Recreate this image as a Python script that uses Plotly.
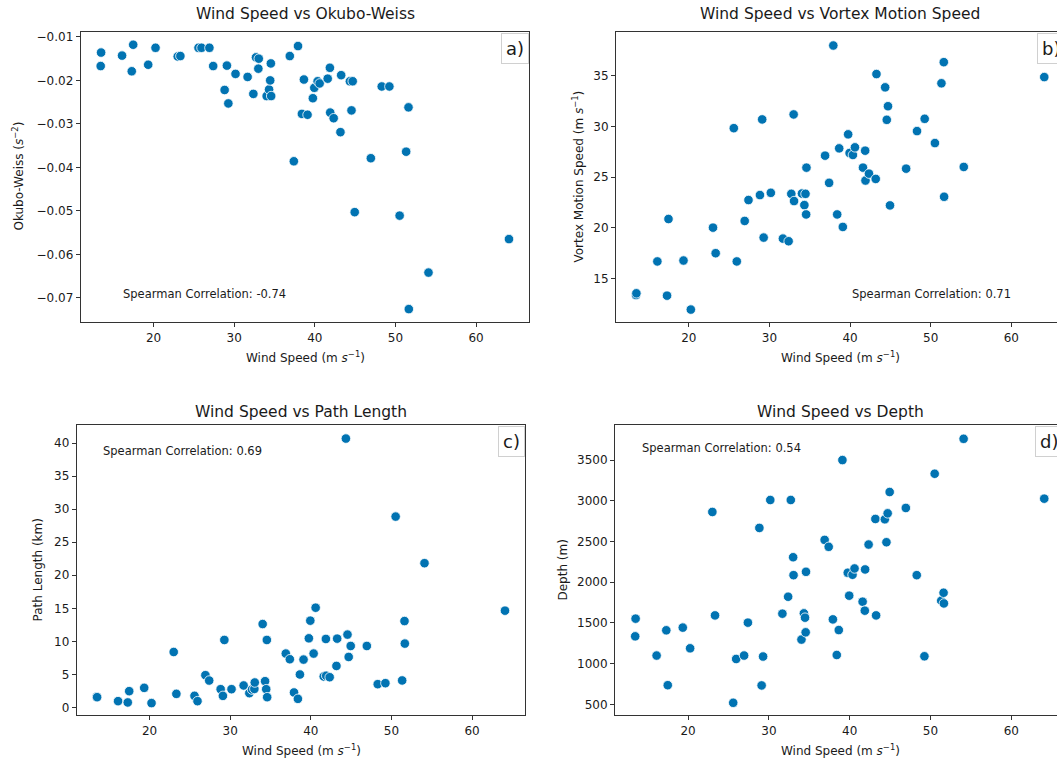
import plotly.graph_objects as go

W, H = 1057, 760

# ---------------- data ----------------
wind_speed = [13.45, 13.5, 16.1, 17.3, 17.48, 19.34, 20.25, 23.0, 23.33, 25.58,
              25.95, 26.93, 27.4, 28.82, 29.1, 29.28, 30.17, 31.67, 32.38, 32.71,
              33.0, 33.05, 34.03, 34.33, 34.47, 34.55, 34.59, 36.9, 37.4, 37.92,
              38.4, 38.65, 39.1, 39.76, 39.94, 40.35, 40.6, 41.6, 41.87, 41.91,
              42.34, 43.18, 43.27, 44.35, 44.55, 44.7, 44.95, 46.95, 48.3, 49.25,
              50.52, 51.33, 51.62, 51.66, 54.1, 64.08]

okubo_weiss = [-0.0167, -0.0136, -0.0143, -0.0179, -0.0118, -0.0164, -0.0125, -0.0145, -0.0144, -0.0125,
               -0.0125, -0.0125, -0.0167, -0.0222, -0.0166, -0.0253, -0.0185, -0.0192, -0.0231, -0.0147,
               -0.0173, -0.0150, -0.0236, -0.0221, -0.0200, -0.0161, -0.0236, -0.0144, -0.0386, -0.0121,
               -0.0277, -0.0198, -0.0279, -0.0241, -0.0217, -0.0202, -0.0207, -0.0196, -0.0171, -0.0274,
               -0.0287, -0.0319, -0.0188, -0.0202, -0.0269, -0.0202, -0.0503, -0.0379, -0.0214, -0.0214,
               -0.0511, -0.0364, -0.0262, -0.0726, -0.0642, -0.0565]

vortex_speed = [13.39, 13.56, 16.70, 13.33, 20.88, 16.79, 11.96, 20.03, 17.51, 29.83,
                16.70, 20.69, 22.75, 23.24, 30.69, 19.05, 23.46, 18.95, 18.69, 23.36,
                31.18, 22.65, 23.39, 22.25, 23.36, 21.33, 25.94, 27.12, 24.44, 37.97,
                21.33, 27.84, 20.10, 29.22, 27.38, 27.19, 27.94, 25.94, 27.61, 24.67,
                25.35, 24.83, 35.16, 33.85, 30.65, 31.99, 22.22, 25.84, 29.54, 30.75,
                28.36, 34.25, 36.33, 23.07, 26.01, 34.86]

path_length = [1.6, 1.55, 0.95, 0.75, 2.46, 2.96, 0.65, 8.39, 2.05, 1.75,
               0.95, 4.88, 4.07, 2.76, 1.75, 10.21, 2.76, 3.32, 2.16, 2.7,
               2.8, 3.77, 12.62, 3.97, 2.76, 10.21, 1.55, 8.15, 7.29, 2.26,
               1.30, 4.98, 7.24, 10.46, 13.13, 8.15, 15.09, 4.68, 10.36, 4.8,
               4.57, 6.28, 10.41, 40.69, 11.02, 7.64, 9.30, 9.30, 3.52, 3.67,
               28.88, 4.08, 13.07, 9.66, 21.83, 14.64]

depth = [1336, 1553, 1100, 1410, 736, 1443, 1189, 2863, 1593, 520,
         1058, 1100, 1504, 2667, 733, 1088, 3010, 1614, 1822, 3010,
         2307, 2087, 1296, 1618, 1565, 1385, 2128, 2520, 2435, 1544,
         1107, 1413, 3500, 2116, 1835, 2092, 2169, 1761, 1651, 2157,
         2463, 2777, 1593, 2773, 2491, 2846, 3108, 2912, 2087, 1091,
         3332, 1773, 1871, 1740, 3761, 3026]

titles = ["Wind Speed vs Okubo-Weiss", "Wind Speed vs Vortex Motion Speed",
          "Wind Speed vs Path Length", "Wind Speed vs Depth"]
y_labels = ["Okubo-Weiss (<i>s</i><sup>−2</sup>)",
            "Vortex Motion Speed (m <i>s</i><sup>−1</sup>)",
            "Path Length (km)", "Depth (m)"]
x_label = "Wind Speed (m <i>s</i><sup>−1</sup>)"
spearman = ["-0.74", "0.71", "0.69", "0.54"]
panel_labels = ["a)", "b)", "c)", "d)"]

x_ticks = [20, 30, 40, 50, 60]
ow_ticks = [-0.07, -0.06, -0.05, -0.04, -0.03, -0.02, -0.01]
vms_ticks = [15, 20, 25, 30, 35]
pl_ticks = [0, 5, 10, 15, 20, 25, 30, 35, 40]
depth_ticks = [500, 1000, 1500, 2000, 2500, 3000, 3500]

# ---------------- helpers ----------------
def fx(p):
    return p / W

def fy(p):
    return 1 - p / H

FONT = "DejaVu Sans"
COLOR = "#0173b2"
TXT = "#1a1a1a"
LINE = "#333333"

fig = go.Figure()

series = [okubo_weiss, vortex_speed, path_length, depth]
axes = [("x", "y"), ("x2", "y2"), ("x3", "y3"), ("x4", "y4")]
for ys, (xa, ya) in zip(series, axes):
    fig.add_trace(go.Scatter(
        x=wind_speed, y=ys, mode="markers", xaxis=xa, yaxis=ya,
        marker=dict(size=9.5, color=COLOR, line=dict(color="white", width=0.8)),
        showlegend=False, hoverinfo="x+y"))

def ax_style(**kw):
    d = dict(showline=True, linecolor=LINE, linewidth=1, ticks="outside",
             ticklen=4, tickwidth=1, tickcolor=LINE, showgrid=False,
             zeroline=False, tickfont=dict(family=FONT, size=12, color=TXT))
    d.update(kw)
    return d

layout = dict(
    width=W, height=H, margin=dict(l=0, r=0, t=0, b=0),
    paper_bgcolor="white", plot_bgcolor="white",
    font=dict(family=FONT, color=TXT),
    xaxis=ax_style(domain=[fx(80.7), fx(529.3)], range=[10.97, 66.6],
                   tickvals=x_ticks, anchor="y", mirror=True),
    yaxis=ax_style(domain=[fy(321), fy(30)], range=[-0.0756, -0.00885],
                   tickvals=ow_ticks, tickformat=".2f", anchor="x", mirror=True),
    xaxis2=ax_style(domain=[fx(616), 1.0], range=[10.97, 65.66],
                    tickvals=x_ticks, anchor="y2", mirror=True),
    yaxis2=ax_style(domain=[fy(321), fy(30)], range=[10.72, 39.31],
                    tickvals=vms_ticks, anchor="x2", mirror=False),
    xaxis3=ax_style(domain=[fx(76.7), fx(525.3)], range=[10.97, 66.6],
                    tickvals=x_ticks, anchor="y3", mirror=True),
    yaxis3=ax_style(domain=[fy(715.3), fy(424)], range=[-1.21, 42.76],
                    tickvals=pl_ticks, anchor="x3", mirror=True),
    xaxis4=ax_style(domain=[fx(615), 1.0], range=[10.95, 65.66],
                    tickvals=x_ticks, anchor="y4", mirror=True),
    yaxis4=ax_style(domain=[fy(715.3), fy(424)], range=[365, 3932],
                    tickvals=depth_ticks, anchor="x4", mirror=False),
)

ann = []
# titles
title_pos = [(305, 12), (840, 12), (301, 411), (840, 411)]
for t, (x, y) in zip(titles, title_pos):
    ann.append(dict(text=t, x=fx(x), y=fy(y), xref="paper", yref="paper",
                    xanchor="center", yanchor="middle", showarrow=False,
                    font=dict(family=FONT, size=15.5, color=TXT)))
# x labels
xl_pos = [(305, 356), (840, 356), (301, 750), (840, 750)]
for (x, y) in xl_pos:
    ann.append(dict(text=x_label, x=fx(x), y=fy(y), xref="paper", yref="paper",
                    xanchor="center", yanchor="middle", showarrow=False,
                    font=dict(family=FONT, size=12, color=TXT)))
# y labels
yl_pos = [(18, 175), (578, 175), (37, 570), (562, 570)]
for t, (x, y) in zip(y_labels, yl_pos):
    ann.append(dict(text=t, x=fx(x), y=fy(y), xref="paper", yref="paper",
                    xanchor="center", yanchor="middle", showarrow=False,
                    textangle=-90, font=dict(family=FONT, size=12, color=TXT)))
# spearman texts
sp_pos = [(121, 293), (850, 293), (101, 450), (640, 447)]
for s, (x, y) in zip(spearman, sp_pos):
    ann.append(dict(text="Spearman Correlation: " + s, x=fx(x), y=fy(y),
                    xref="paper", yref="paper", xanchor="left", yanchor="middle",
                    showarrow=False, font=dict(family=FONT, size=11.5, color=TXT)))
# panel labels (boxed; b) and d) are cut by the right edge as in the reference)
lab_pos = [(500.5, 31), (1036.5, 31), (497.5, 425), (1034.5, 425)]
for s, (x, y) in zip(panel_labels, lab_pos):
    ann.append(dict(text=s, x=fx(x), y=fy(y), xref="paper", yref="paper",
                    xanchor="left", yanchor="top", showarrow=False,
                    bgcolor="white", bordercolor="#d0d0d0", borderwidth=1,
                    borderpad=4, font=dict(family=FONT, size=18, color=TXT)))

layout["annotations"] = ann
fig.update_layout(**layout)

fig.write_html("out.html", config={"displayModeBar": False},
               post_script="document.body.style.margin='0';document.body.style.overflow='hidden';")
